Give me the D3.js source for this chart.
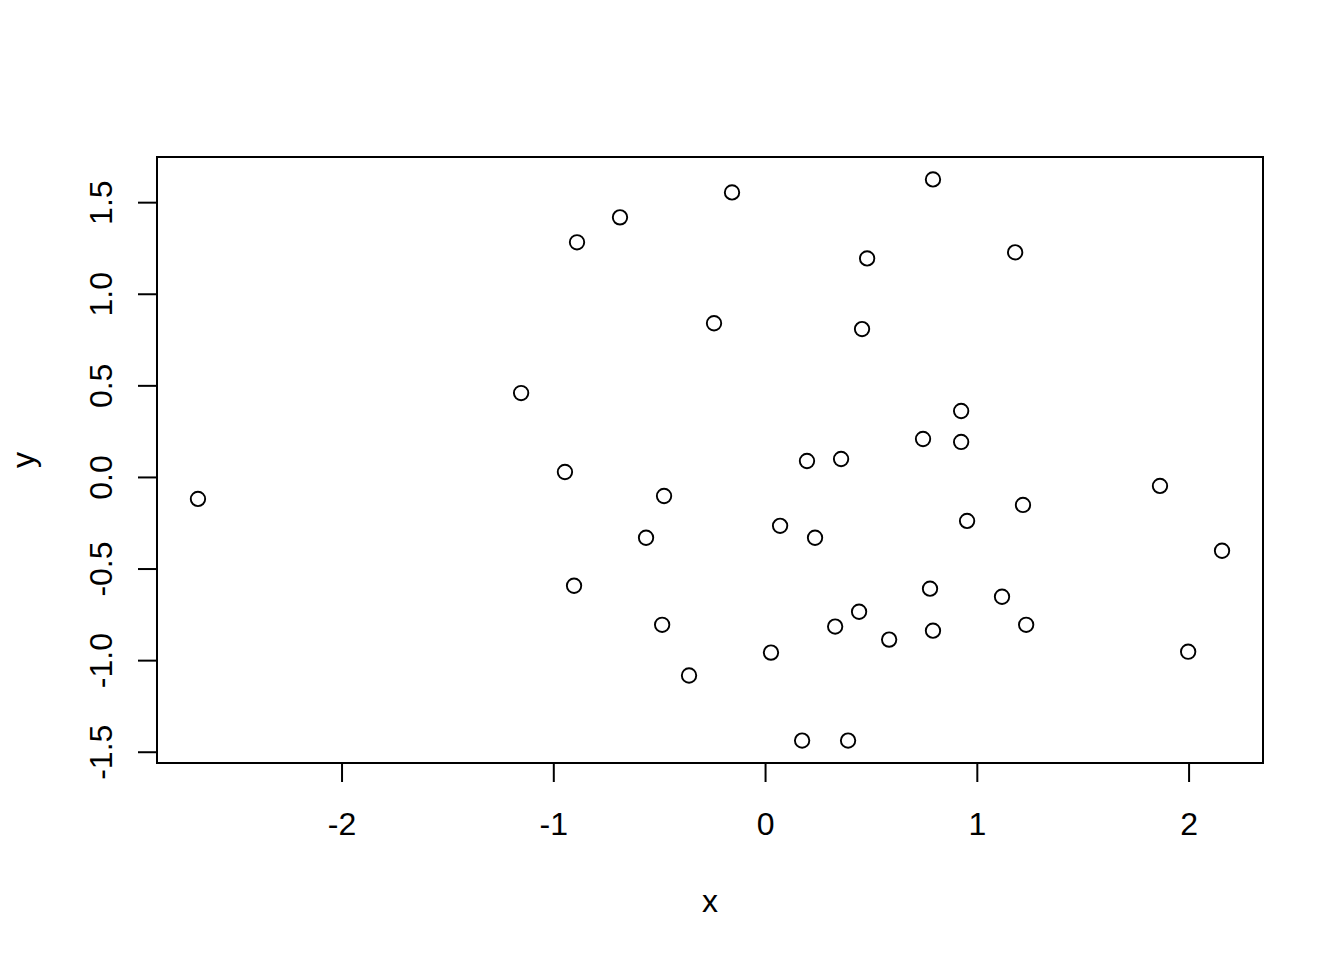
<!DOCTYPE html>
<html>
<head>
<meta charset="utf-8">
<script src="https://cdn.jsdelivr.net/npm/d3@7"></script>
<style>
  html, body { margin: 0; padding: 0; background: #fff; }
  svg { display: block; }
  text { font-family: "Liberation Sans", Arial, Helvetica, sans-serif; fill: #000; }
</style>
</head>
<body>
<svg id="chart" width="1344" height="960"></svg>
<script>
const xValues = [-2.678, -1.152, -0.945, -0.888, -0.902, -0.685, -0.562, -0.477, -0.486, -0.359,
  -0.241, -0.156, 0.028, 0.071, 0.175, 0.198, 0.236, 0.331, 0.359, 0.392,
  0.444, 0.458, 0.482, 0.586, 0.746, 0.779, 0.793, 0.793, 0.926, 0.926,
  0.954, 1.119, 1.181, 1.218, 1.233, 1.865, 1.998, 2.158];
const yValues = [-0.120, 0.458, 0.027, 1.281, -0.594, 1.417, -0.332, -0.104, -0.807, -1.084,
  0.839, 1.553, -0.959, -0.267, -1.439, 0.087, -0.332, -0.817, 0.098, -1.439,
  -0.736, 0.807, 1.193, -0.888, 0.207, -0.610, 1.624, -0.839, 0.360, 0.191,
  -0.240, -0.654, 1.226, -0.153, -0.807, -0.049, -0.954, -0.403];
const xTicks = [-2, -1, 0, 1, 2];
const yTicks = [-1.5, -1.0, -0.5, 0.0, 0.5, 1.0, 1.5];
const xTickLabels = ["-2", "-1", "0", "1", "2"];
const yTickLabels = ["-1.5", "-1.0", "-0.5", "0.0", "0.5", "1.0", "1.5"];
const xTitle = "x";
const yTitle = "y";

(function () {
const points = xValues.map((v, i) => ({ x: v, y: yValues[i] }));

const svg = d3.select("#chart");
const pLeft = 157, pRight = 1263, pTop = 157, pBottom = 763;

function ext(arr) {
  const [a, b] = d3.extent(arr);
  const d = (b - a) * 0.04;
  return [a - d, b + d];
}

const x = d3.scaleLinear().domain(ext(xValues)).range([pLeft, pRight]);
const y = d3.scaleLinear().domain(ext(yValues)).range([pBottom, pTop]);

const FS = 32;

// x axis
const xAxis = d3.axisBottom(x).tickValues(xTicks).tickSize(19).tickSizeOuter(0)
  .tickFormat((d, i) => xTickLabels[i]);
const gx = svg.append("g").attr("transform", `translate(0,${pBottom})`).call(xAxis);
gx.select(".domain").attr("d", `M${x(xTicks[0])},0H${x(xTicks[xTicks.length - 1])}`)
  .attr("stroke", "#000").attr("stroke-width", 2);
gx.selectAll(".tick line").attr("stroke", "#000").attr("stroke-width", 2);
gx.selectAll(".tick text").attr("y", 72).attr("dy", null)
  .attr("font-size", FS).attr("font-family", "Liberation Sans, Arial, sans-serif").attr("fill", "#000");

// y axis
const yAxis = d3.axisLeft(y).tickValues(yTicks).tickSize(19).tickSizeOuter(0)
  .tickFormat((d, i) => yTickLabels[i]);
const gy = svg.append("g").attr("transform", `translate(${pLeft},0)`).call(yAxis);
gy.select(".domain").attr("d", `M0,${y(yTicks[0])}V${y(yTicks[yTicks.length - 1])}`)
  .attr("stroke", "#000").attr("stroke-width", 2);
gy.selectAll(".tick line").attr("stroke", "#000").attr("stroke-width", 2);
gy.selectAll(".tick text")
  .attr("x", null).attr("dy", null)
  .attr("text-anchor", "middle")
  .attr("transform", "translate(-45,0) rotate(-90)")
  .attr("font-size", FS).attr("font-family", "Liberation Sans, Arial, sans-serif").attr("fill", "#000");

// box
svg.append("rect")
  .attr("x", pLeft).attr("y", pTop)
  .attr("width", pRight - pLeft).attr("height", pBottom - pTop)
  .attr("fill", "none").attr("stroke", "#000").attr("stroke-width", 2);

// points
svg.append("g").selectAll("circle").data(points).join("circle")
  .attr("cx", d => x(d.x)).attr("cy", d => y(d.y))
  .attr("r", 7.2)
  .attr("fill", "none").attr("stroke", "#000").attr("stroke-width", 1.9);

// titles
svg.append("text").attr("x", (pLeft + pRight) / 2).attr("y", 912)
  .attr("text-anchor", "middle").attr("font-size", FS).text(xTitle);
svg.append("text")
  .attr("transform", `translate(34,${(pTop + pBottom) / 2}) rotate(-90)`)
  .attr("text-anchor", "middle").attr("font-size", FS).text(yTitle);
})();
</script>
</body>
</html>
